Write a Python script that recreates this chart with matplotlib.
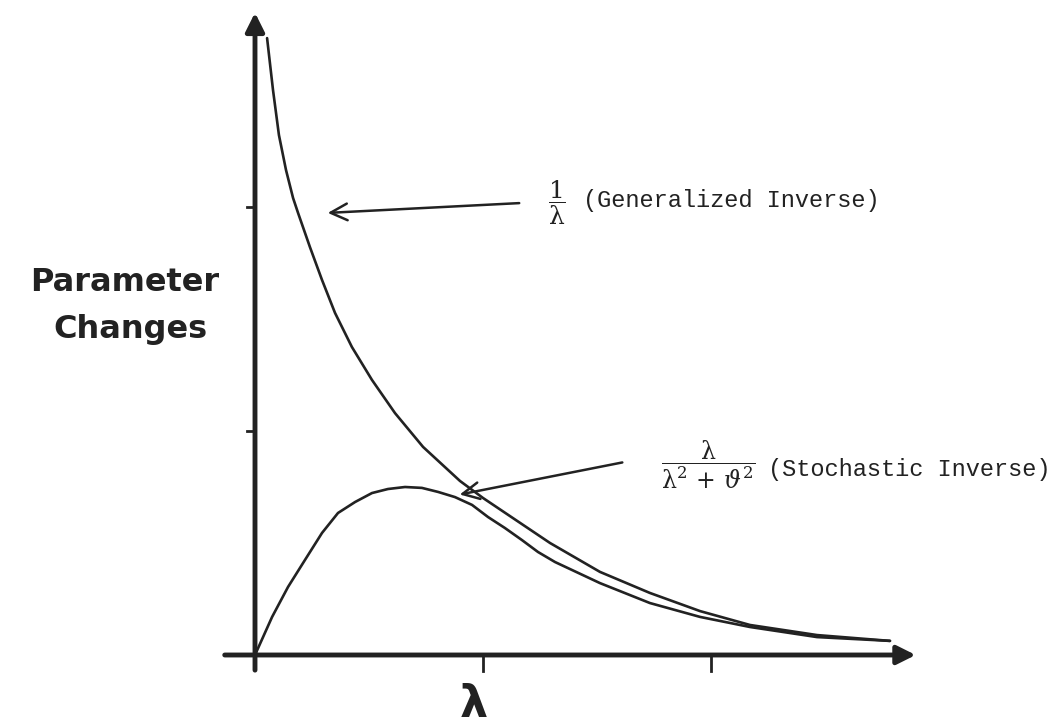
import matplotlib.pyplot as plt

plt.rcParams["mathtext.fontset"] = "dejavuserif"

# Valores (unidades: marca de eje = 1)
lam_gen = [0.053, 0.079, 0.105, 0.136, 0.167, 0.189, 0.241, 0.294, 0.351, 0.425,
           0.513, 0.614, 0.737, 0.899, 1.000, 1.294, 1.513, 1.732, 1.952, 2.171,
           2.465, 2.785]
cambio_gen = [2.754, 2.522, 2.321, 2.165, 2.040, 1.973, 1.821, 1.674, 1.527, 1.375,
              1.228, 1.080, 0.929, 0.777, 0.701, 0.500, 0.371, 0.277, 0.196, 0.134,
              0.089, 0.063]

lam_sto = [0.0, 0.075, 0.145, 0.219, 0.294, 0.364, 0.439, 0.513, 0.583, 0.658,
           0.732, 0.803, 0.877, 0.952, 1.022, 1.096, 1.171, 1.241, 1.316, 1.513,
           1.732, 1.952, 2.171, 2.465, 2.785]
cambio_sto = [0.0, 0.170, 0.304, 0.424, 0.545, 0.634, 0.683, 0.723, 0.741, 0.750,
              0.746, 0.728, 0.705, 0.670, 0.616, 0.567, 0.513, 0.460, 0.415, 0.321,
              0.232, 0.170, 0.125, 0.080, 0.063]

x_ticks = [1, 2]
y_ticks = [1, 2]

tinta = "#222222"

fig = plt.figure(figsize=(10.58, 7.25), dpi=100)
ax = fig.add_axes([0, 0, 1, 1])
ax.set_xlim(-255 / 228, (1058 - 255) / 228)
ax.set_ylim(-70 / 224, 655 / 224)
ax.axis("off")

# Ejes con flechas
ax.annotate("", xy=(2.91, 0), xytext=(-0.145, 0),
            arrowprops=dict(arrowstyle="-|>", lw=3.5, color=tinta, mutation_scale=28))
ax.annotate("", xy=(0, 2.88), xytext=(0, -0.08),
            arrowprops=dict(arrowstyle="-|>", lw=3.5, color=tinta, mutation_scale=28))
for t in x_ticks:
    ax.plot([t, t], [0, -0.07], color=tinta, lw=2)
for t in y_ticks:
    ax.plot([-0.035, 0], [t, t], color=tinta, lw=2)

# Curvas
ax.plot(lam_gen, cambio_gen, color=tinta, lw=1.9, solid_capstyle="round",
        solid_joinstyle="round")
ax.plot(lam_sto, cambio_sto, color=tinta, lw=1.9, solid_capstyle="round",
        solid_joinstyle="round")

# Etiquetas de los ejes
ax.text(-0.570, 1.665, "Parameter", ha="center", va="center",
        fontsize=23, fontweight="bold", family="DejaVu Sans", color=tinta)
ax.text(-0.548, 1.451, "Changes", ha="center", va="center",
        fontsize=23, fontweight="bold", family="DejaVu Sans", color=tinta)
ax.text(0.96, -0.223, "λ", ha="center", va="center",
        fontsize=32, fontweight="bold", family="DejaVu Sans", color=tinta)

# Anotaciones
ax.annotate("", xy=(0.307, 1.973), xytext=(1.171, 2.018),
            arrowprops=dict(arrowstyle="->", lw=1.8, color=tinta, mutation_scale=30))
ax.text(1.325, 2.02, r"$\dfrac{1}{\mathrm{\lambda}}$", ha="center", va="center",
        fontsize=18, color=tinta)
ax.text(1.44, 2.03, "(Generalized Inverse)", ha="left", va="center",
        fontsize=17, family="Liberation Mono", color=tinta)

ax.annotate("", xy=(0.886, 0.714), xytext=(1.623, 0.862),
            arrowprops=dict(arrowstyle="->", lw=1.8, color=tinta, mutation_scale=30))
ax.text(1.99, 0.848,
        r"$\dfrac{\mathrm{\lambda}}{\mathrm{\lambda}^2\,+\,\vartheta^2}$",
        ha="center", va="center", fontsize=17, color=tinta)
ax.text(2.25, 0.826, "(Stochastic Inverse)", ha="left", va="center",
        fontsize=17, family="Liberation Mono", color=tinta)

fig.savefig("out.png", dpi=100, facecolor="white")
